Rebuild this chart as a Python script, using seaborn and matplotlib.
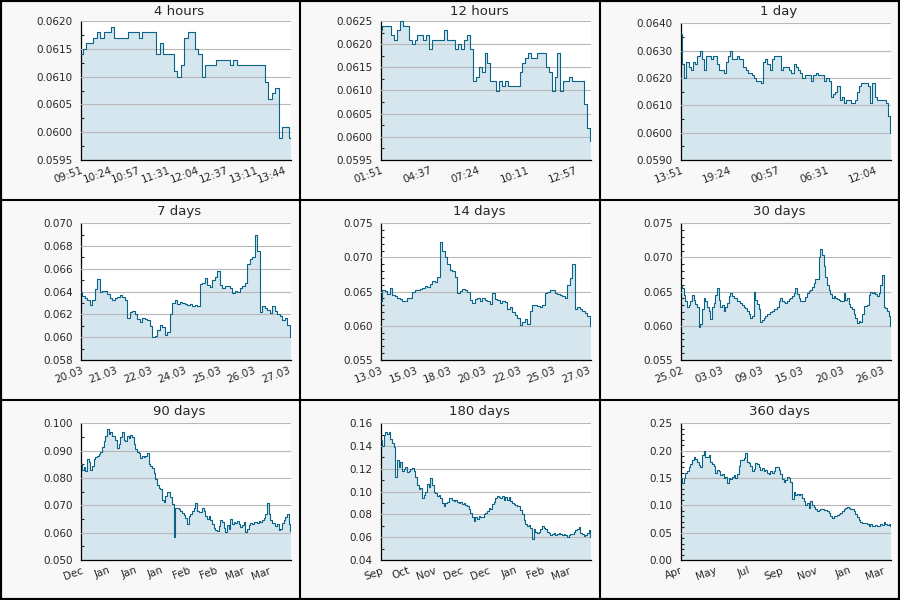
import numpy as np
import matplotlib.pyplot as plt
import seaborn as sns
from matplotlib.ticker import MultipleLocator, FormatStrFormatter
from matplotlib.lines import Line2D
from matplotlib.patches import Rectangle

sns.set_style("white")
plt.rcParams['font.family'] = ['DejaVu Sans']

LINE = '#0a6488'
FILL = '#d6e6ee'
CELL_BG = '#f8f8f8'

# panel titles and time span (minutes for the first three, days otherwise)
titles = ['4 hours', '12 hours', '1 day', '7 days', '14 days', '30 days',
          '90 days', '180 days', '360 days']
spans = [240, 720, 1440, 7, 14, 30, 90, 180, 360]

# tick positions (same units as span) and tick labels
ticks_4h = [0, 33, 66, 100, 133, 166, 200, 233]
labels_4h = ['09:51', '10:24', '10:57', '11:31', '12:04', '12:37', '13:11', '13:44']
ticks_12h = [0, 166, 333, 500, 666]
labels_12h = ['01:51', '04:37', '07:24', '10:11', '12:57']
ticks_1d = [0, 333, 666, 1000, 1333]
labels_1d = ['13:51', '19:24', '00:57', '06:31', '12:04']
ticks_7d = [0, 1.152, 2.304, 3.456, 4.608, 5.76, 6.912]
labels_7d = ['20.03', '21.03', '22.03', '24.03', '25.03', '26.03', '27.03']
ticks_14d = [0, 2.304, 4.608, 6.912, 9.216, 11.52, 13.824]
labels_14d = ['13.03', '15.03', '18.03', '20.03', '22.03', '25.03', '27.03']
ticks_30d = [0, 5.76, 11.52, 17.28, 23.04, 28.8]
labels_30d = ['25.02', '03.03', '09.03', '15.03', '20.03', '26.03']
ticks_90d = [0, 11.52, 23.04, 34.56, 46.08, 57.6, 69.12, 80.64]
labels_90d = ['Dec', 'Jan', 'Jan', 'Jan', 'Feb', 'Feb', 'Mar', 'Mar']
ticks_180d = [0, 23.04, 46.08, 69.12, 92.16, 115.2, 138.24, 161.28]
labels_180d = ['Sep', 'Oct', 'Nov', 'Dec', 'Dec', 'Jan', 'Feb', 'Mar']
ticks_360d = [0, 57.6, 115.2, 172.8, 230.4, 288.0, 345.6]
labels_360d = ['Apr', 'May', 'Jul', 'Sep', 'Nov', 'Jan', 'Mar']

# y axis: (min, max, major step, minor step, format)
yaxes = [
    (0.0595, 0.0620, 0.0005, 0.00025, '%.4f'),
    (0.0595, 0.0625, 0.0005, 0.00025, '%.4f'),
    (0.0590, 0.0640, 0.0010, 0.0005, '%.4f'),
    (0.058, 0.070, 0.002, 0.001, '%.3f'),
    (0.055, 0.075, 0.005, 0.001, '%.3f'),
    (0.055, 0.075, 0.005, 0.001, '%.3f'),
    (0.050, 0.100, 0.010, 0.005, '%.3f'),
    (0.04, 0.16, 0.02, 0.01, '%.2f'),
    (0.00, 0.25, 0.05, 0.01, '%.2f'),
]

vals_4h = [0.0614, 0.0615, 0.0616, 0.0616, 0.0617, 0.0618, 0.0617, 0.0618, 0.0618, 0.0619,
           0.0617, 0.0617, 0.0617, 0.0617, 0.0618, 0.0618, 0.0618, 0.0617, 0.0618, 0.0618,
           0.0618, 0.0618, 0.0614, 0.0616, 0.0614, 0.0614, 0.0614, 0.0611, 0.0610, 0.0612,
           0.0617, 0.0618, 0.0618, 0.0615, 0.0614, 0.0610, 0.0612, 0.0612, 0.0612, 0.0613,
           0.0613, 0.0613, 0.0613, 0.0612, 0.0613, 0.0612, 0.0612, 0.0612, 0.0612, 0.0612,
           0.0612, 0.0612, 0.0612, 0.0609, 0.0606, 0.0607, 0.0608, 0.0599, 0.0601, 0.0601,
           0.0599]

vals_12h = [0.0623, 0.0624, 0.0624, 0.0624, 0.0622, 0.0621, 0.0623, 0.0625, 0.0624, 0.0624,
            0.0621, 0.0620, 0.0621, 0.0622, 0.0622, 0.0621, 0.0622, 0.0619, 0.0621, 0.0621,
            0.0621, 0.0621, 0.0623, 0.0621, 0.0621, 0.0621, 0.0619, 0.0620, 0.0619, 0.0621,
            0.0622, 0.0619, 0.0612, 0.0613, 0.0615, 0.0614, 0.0618, 0.0616, 0.0612, 0.0612,
            0.0610, 0.0612, 0.0611, 0.0612, 0.0611, 0.0611, 0.0611, 0.0611, 0.0614, 0.0616,
            0.0617, 0.0618, 0.0617, 0.0617, 0.0618, 0.0618, 0.0618, 0.0615, 0.0614, 0.0610,
            0.0613, 0.0618, 0.0610, 0.0612, 0.0612, 0.0613, 0.0612, 0.0612, 0.0612, 0.0612,
            0.0607, 0.0602, 0.0599]

vals_1d = [0.0636, 0.0625, 0.0620, 0.0626, 0.0624, 0.0623, 0.0626, 0.0625, 0.0628, 0.0630,
           0.0627, 0.0623, 0.0628, 0.0628, 0.0627, 0.0628, 0.0628, 0.0625, 0.0623, 0.0623,
           0.0622, 0.0626, 0.0628, 0.0630, 0.0627, 0.0627, 0.0628, 0.0627, 0.0627, 0.0624,
           0.0623, 0.0622, 0.0622, 0.0621, 0.0620, 0.0619, 0.0619, 0.0618, 0.0626, 0.0627,
           0.0625, 0.0623, 0.0627, 0.0628, 0.0628, 0.0628, 0.0623, 0.0624, 0.0624, 0.0624,
           0.0623, 0.0622, 0.0625, 0.0624, 0.0623, 0.0622, 0.0620, 0.0621, 0.0621, 0.0621,
           0.0619, 0.0621, 0.0622, 0.0621, 0.0621, 0.0621, 0.0619, 0.0620, 0.0619, 0.0613,
           0.0614, 0.0615, 0.0617, 0.0612, 0.0613, 0.0611, 0.0612, 0.0612, 0.0611, 0.0611,
           0.0612, 0.0615, 0.0617, 0.0618, 0.0618, 0.0618, 0.0617, 0.0611, 0.0618, 0.0613,
           0.0612, 0.0612, 0.0612, 0.0612, 0.0611, 0.0606, 0.0600]

vals_7d = [0.0640, 0.0636, 0.0634, 0.0633, 0.0628, 0.0633, 0.0642, 0.0651, 0.0640, 0.0641,
           0.0641, 0.0638, 0.0634, 0.0633, 0.0634, 0.0635, 0.0637, 0.0635, 0.0633, 0.0617,
           0.0622, 0.0623, 0.0620, 0.0616, 0.0613, 0.0617, 0.0616, 0.0615, 0.0610, 0.0600,
           0.0601, 0.0606, 0.0611, 0.0609, 0.0602, 0.0605, 0.0620, 0.0630, 0.0633, 0.0629,
           0.0631, 0.0630, 0.0629, 0.0628, 0.0629, 0.0627, 0.0628, 0.0627, 0.0647, 0.0648,
           0.0652, 0.0646, 0.0644, 0.0650, 0.0653, 0.0658, 0.0646, 0.0643, 0.0645, 0.0645,
           0.0643, 0.0639, 0.0641, 0.0640, 0.0643, 0.0645, 0.0648, 0.0664, 0.0669, 0.0670,
           0.0690, 0.0676, 0.0622, 0.0627, 0.0626, 0.0624, 0.0621, 0.0627, 0.0623, 0.0620,
           0.0619, 0.0615, 0.0617, 0.0611, 0.0600]

vals_14d = [0.0636, 0.0652, 0.0651, 0.0646, 0.0655, 0.0645, 0.0643, 0.0641, 0.0639, 0.0637,
            0.0636, 0.0640, 0.0641, 0.0650, 0.0652, 0.0653, 0.0654, 0.0656, 0.0658, 0.0657,
            0.0661, 0.0665, 0.0664, 0.0671, 0.0722, 0.0710, 0.0700, 0.0690, 0.0682, 0.0680,
            0.0672, 0.0648, 0.0651, 0.0654, 0.0653, 0.0650, 0.0638, 0.0634, 0.0639, 0.0640,
            0.0637, 0.0640, 0.0638, 0.0636, 0.0632, 0.0648, 0.0639, 0.0638, 0.0634, 0.0636,
            0.0635, 0.0625, 0.0627, 0.0620, 0.0616, 0.0612, 0.0601, 0.0605, 0.0610, 0.0603,
            0.0622, 0.0630, 0.0630, 0.0629, 0.0628, 0.0630, 0.0648, 0.0650, 0.0653, 0.0652,
            0.0648, 0.0646, 0.0645, 0.0643, 0.0641, 0.0660, 0.0670, 0.0690, 0.0625, 0.0627,
            0.0625, 0.0622, 0.0619, 0.0615, 0.0600]

vals_30d = [0.0658, 0.0655, 0.0645, 0.0637, 0.0628, 0.0630, 0.0636, 0.0645, 0.0638, 0.0632,
            0.0628, 0.0598, 0.0602, 0.0625, 0.0640, 0.0636, 0.0628, 0.0622, 0.0610, 0.0628,
            0.0633, 0.0645, 0.0655, 0.0638, 0.0627, 0.0630, 0.0622, 0.0628, 0.0633, 0.0643,
            0.0648, 0.0643, 0.0641, 0.0640, 0.0636, 0.0637, 0.0634, 0.0631, 0.0628, 0.0626,
            0.0622, 0.0617, 0.0612, 0.0615, 0.0650, 0.0638, 0.0632, 0.0624, 0.0605, 0.0608,
            0.0612, 0.0615, 0.0618, 0.0617, 0.0620, 0.0622, 0.0624, 0.0625, 0.0628, 0.0637,
            0.0641, 0.0637, 0.0635, 0.0634, 0.0636, 0.0639, 0.0641, 0.0644, 0.0648, 0.0656,
            0.0646, 0.0641, 0.0637, 0.0636, 0.0637, 0.0642, 0.0648, 0.0651, 0.0653, 0.0657,
            0.0662, 0.0668, 0.0668, 0.0700, 0.0713, 0.0703, 0.0688, 0.0672, 0.0660, 0.0652,
            0.0647, 0.0641, 0.0643, 0.0640, 0.0639, 0.0638, 0.0636, 0.0637, 0.0648, 0.0638,
            0.0640, 0.0632, 0.0627, 0.0625, 0.0618, 0.0611, 0.0604, 0.0607, 0.0605, 0.0618,
            0.0629, 0.0629, 0.0630, 0.0645, 0.0650, 0.0648, 0.0650, 0.0646, 0.0644, 0.0648,
            0.0660, 0.0675, 0.0628, 0.0626, 0.0622, 0.0615, 0.0600]

vals_90d = [0.0850, 0.0830, 0.0840, 0.0825, 0.0870, 0.0860, 0.0830, 0.0845, 0.0870, 0.0878,
            0.0880, 0.0886, 0.0895, 0.0912, 0.0935, 0.0955, 0.0978, 0.0960, 0.0968, 0.0955,
            0.0952, 0.0940, 0.0910, 0.0925, 0.0950, 0.0968, 0.0940, 0.0935, 0.0955, 0.0945,
            0.0958, 0.0950, 0.0925, 0.0905, 0.0895, 0.0890, 0.0872, 0.0880, 0.0876, 0.0880,
            0.0893, 0.0850, 0.0845, 0.0838, 0.0820, 0.0795, 0.0775, 0.0765, 0.0758, 0.0718,
            0.0712, 0.0735, 0.0750, 0.0748, 0.0732, 0.0705, 0.0585, 0.0690, 0.0692, 0.0686,
            0.0678, 0.0672, 0.0663, 0.0655, 0.0632, 0.0662, 0.0670, 0.0678, 0.0690, 0.0710,
            0.0680, 0.0677, 0.0676, 0.0690, 0.0680, 0.0660, 0.0650, 0.0660, 0.0648, 0.0632,
            0.0618, 0.0608, 0.0605, 0.0625, 0.0645, 0.0640, 0.0618, 0.0602, 0.0628, 0.0615,
            0.0650, 0.0630, 0.0640, 0.0635, 0.0642, 0.0632, 0.0622, 0.0628, 0.0640, 0.0602,
            0.0612, 0.0628, 0.0634, 0.0630, 0.0638, 0.0640, 0.0636, 0.0644, 0.0640, 0.0648,
            0.0655, 0.0670, 0.0708, 0.0670, 0.0645, 0.0635, 0.0636, 0.0626, 0.0630, 0.0610,
            0.0612, 0.0635, 0.0648, 0.0656, 0.0670, 0.0630, 0.0605]

vals_180d = [0.145, 0.140, 0.150, 0.152, 0.151, 0.152, 0.146, 0.143, 0.139, 0.113,
             0.128, 0.122, 0.126, 0.118, 0.120, 0.122, 0.117, 0.118, 0.120, 0.121,
             0.118, 0.113, 0.106, 0.102, 0.103, 0.094, 0.097, 0.100, 0.107, 0.104,
             0.112, 0.106, 0.100, 0.099, 0.096, 0.097, 0.094, 0.090, 0.087, 0.090,
             0.091, 0.094, 0.094, 0.093, 0.092, 0.093, 0.091, 0.090, 0.091, 0.089,
             0.090, 0.088, 0.087, 0.085, 0.081, 0.078, 0.074, 0.078, 0.076, 0.079,
             0.078, 0.078, 0.080, 0.081, 0.083, 0.086, 0.085, 0.089, 0.091, 0.094,
             0.096, 0.095, 0.094, 0.096, 0.093, 0.095, 0.093, 0.095, 0.092, 0.090,
             0.089, 0.088, 0.087, 0.087, 0.084, 0.080, 0.075, 0.072, 0.070, 0.071,
             0.068, 0.058, 0.067, 0.065, 0.064, 0.065, 0.067, 0.070, 0.068, 0.067,
             0.065, 0.064, 0.062, 0.063, 0.064, 0.062, 0.063, 0.064, 0.063, 0.062,
             0.063, 0.062, 0.060, 0.062, 0.063, 0.063, 0.065, 0.066, 0.067, 0.069,
             0.064, 0.063, 0.061, 0.062, 0.064, 0.066, 0.060]

vals_360d = [0.150, 0.140, 0.150, 0.160, 0.162, 0.170, 0.175, 0.182, 0.188, 0.185,
             0.180, 0.174, 0.170, 0.192, 0.200, 0.188, 0.188, 0.192, 0.180, 0.176,
             0.172, 0.160, 0.165, 0.162, 0.155, 0.158, 0.150, 0.152, 0.140, 0.150,
             0.148, 0.152, 0.155, 0.150, 0.157, 0.172, 0.183, 0.182, 0.186, 0.195,
             0.180, 0.178, 0.172, 0.162, 0.166, 0.178, 0.175, 0.170, 0.165, 0.168,
             0.162, 0.165, 0.160, 0.158, 0.162, 0.160, 0.162, 0.170, 0.170, 0.165,
             0.158, 0.148, 0.142, 0.146, 0.152, 0.150, 0.143, 0.112, 0.124, 0.118,
             0.121, 0.118, 0.121, 0.114, 0.108, 0.100, 0.104, 0.096, 0.108, 0.100,
             0.097, 0.094, 0.089, 0.092, 0.094, 0.093, 0.092, 0.092, 0.089, 0.086,
             0.081, 0.077, 0.080, 0.080, 0.083, 0.084, 0.086, 0.090, 0.093, 0.095,
             0.097, 0.095, 0.094, 0.094, 0.089, 0.084, 0.079, 0.074, 0.070, 0.068,
             0.068, 0.067, 0.065, 0.063, 0.065, 0.062, 0.063, 0.064, 0.063, 0.062,
             0.065, 0.064, 0.070, 0.065, 0.064, 0.066, 0.062]

series = [vals_4h, vals_12h, vals_1d, vals_7d, vals_14d, vals_30d,
          vals_90d, vals_180d, vals_360d]
tick_pos = [ticks_4h, ticks_12h, ticks_1d, ticks_7d, ticks_14d, ticks_30d,
            ticks_90d, ticks_180d, ticks_360d]
tick_lab = [labels_4h, labels_12h, labels_1d, labels_7d, labels_14d, labels_30d,
            labels_90d, labels_180d, labels_360d]

W, H = 900, 600
fig = plt.figure(figsize=(9, 6), dpi=100, facecolor=CELL_BG)

for k in range(9):
    r, c = divmod(k, 3)
    top = 21 if k < 2 else 23.3
    ax = fig.add_axes([(c * 300 + 81) / W, 1 - (r * 200 + 160) / H,
                       210 / W, (160 - top) / H])
    ymin, ymax, major, minor, fmt = yaxes[k]
    vals = series[k]
    x = np.linspace(0, spans[k], len(vals))

    ax.fill_between(x, vals, ymin, step='mid', color=FILL, lw=0, zorder=1)
    sns.lineplot(x=x, y=vals, drawstyle='steps-mid', color=LINE, lw=0.8,
                 ax=ax, zorder=3)

    ax.set_facecolor('white')
    ax.set_xlim(0, spans[k])
    ax.set_ylim(ymin, ymax)
    ax.yaxis.set_major_locator(MultipleLocator(major))
    ax.yaxis.set_minor_locator(MultipleLocator(minor))
    ax.yaxis.set_major_formatter(FormatStrFormatter(fmt))
    ax.set_xticks(tick_pos[k])
    ax.set_xticklabels(tick_lab[k], rotation=20, ha='right',
                       rotation_mode='anchor', fontsize=7.5)
    ax.tick_params(axis='y', which='major', direction='in', length=4.5,
                   width=0.8, labelsize=7.5, pad=6)
    ax.tick_params(axis='y', which='minor', direction='in', length=2.5,
                   width=0.8, left=True)
    ax.tick_params(axis='x', which='major', direction='in', length=4.5,
                   width=0.8, pad=4)
    ax.grid(axis='y', color='#b8b8b8', lw=0.8)
    ax.set_axisbelow(False)
    for side in ['top', 'right']:
        ax.spines[side].set_visible(False)
    for side in ['left', 'bottom']:
        ax.spines[side].set_color('black')
        ax.spines[side].set_linewidth(0.9)
    ax.set_xlabel('')
    ax.set_ylabel('')

    fig.text((c * 300 + 179) / W, 1 - (r * 200 + 15) / H, titles[k],
             ha='center', va='baseline', fontsize=9.5)

# cell separators and outer border
for pos in [1 / 3, 2 / 3]:
    fig.add_artist(Line2D([pos, pos], [0, 1], transform=fig.transFigure,
                          color='black', lw=1.5))
    fig.add_artist(Line2D([0, 1], [pos, pos], transform=fig.transFigure,
                          color='black', lw=1.5))
fig.add_artist(Rectangle((0, 0), 1, 1, transform=fig.transFigure,
                         fill=False, edgecolor='black', lw=3))

fig.savefig('out.png', dpi=100, facecolor=fig.get_facecolor())
